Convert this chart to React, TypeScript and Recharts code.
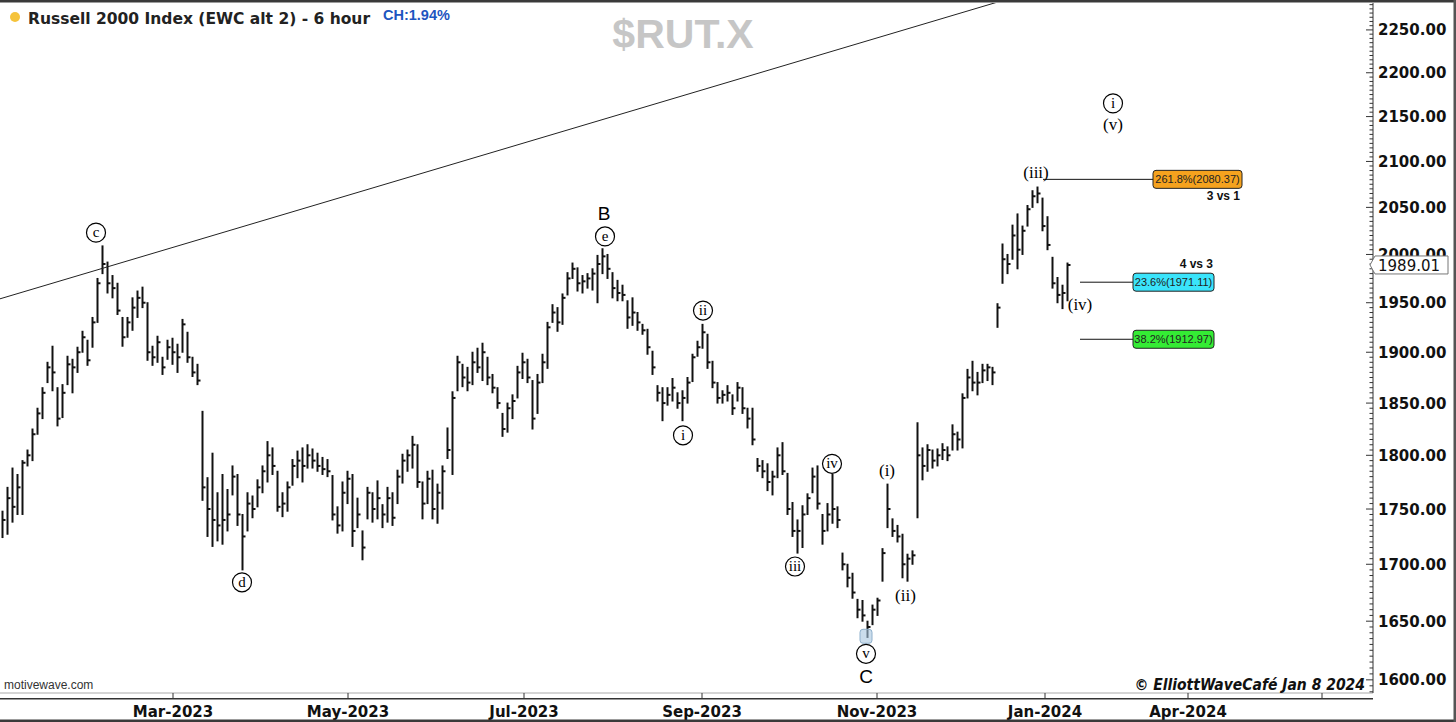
import React from "react";
import {
  ComposedChart,
  Bar,
  XAxis,
  YAxis,
  ReferenceLine,
  ReferenceDot,
} from "recharts";

// one bar per slot (high / low / close)
const highs = [
  1748, 1770, 1788, 1782, 1795, 1805, 1825, 1845, 1865, 1890,
  1906, 1865, 1868, 1896, 1893, 1905, 1921, 1912, 1935, 1975,
  2009, 1992, 1978, 1970, 1935, 1935, 1955, 1962, 1966, 1950,
  1906, 1916, 1895, 1912, 1914, 1908, 1933, 1920, 1895, 1888,
  1842, 1779, 1802, 1765, 1782, 1768, 1790, 1782, 1745, 1765,
  1762, 1777, 1790, 1813, 1807, 1785, 1765, 1775, 1796, 1804,
  1807, 1810, 1806, 1802, 1798, 1796, 1781, 1752, 1775, 1785,
  1782, 1760, 1730, 1770, 1765, 1776, 1754, 1770, 1765, 1786,
  1801, 1805, 1818, 1810, 1775, 1785, 1786, 1773, 1790, 1826,
  1861, 1896, 1888, 1885, 1900, 1904, 1909, 1895, 1878, 1865,
  1840, 1850, 1858, 1886, 1899, 1893, 1872, 1878, 1898, 1930,
  1948, 1945, 1959, 1981, 1991, 1986, 1978, 1980, 1985, 1999,
  2006, 2000, 1981, 1973, 1968, 1952, 1955, 1940, 1928, 1923,
  1901, 1867, 1865, 1865, 1874, 1860, 1862, 1875, 1898, 1911,
  1928, 1918, 1891, 1870, 1862, 1867, 1858, 1870, 1865, 1845,
  1845, 1797, 1795, 1792, 1785, 1807, 1812, 1783, 1756, 1740,
  1753, 1764, 1788, 1790, 1745, 1755, 1782, 1752, 1710, 1700,
  1692, 1669, 1668, 1650, 1664, 1670, 1714, 1773, 1741, 1735,
  1727, 1709, 1712, 1831, 1807, 1810, 1805, 1806, 1811, 1808,
  1829, 1822, 1859, 1883, 1891, 1880, 1888, 1888, 1885, 1949,
  2011, 2000, 2031, 2043, 2030, 2052, 2068, 2072, 2060, 2040,
  1997, 1976, 1968, 1991,
];

const lows = [
  1724, 1727, 1738, 1745, 1745, 1790, 1795, 1820, 1835, 1870,
  1862, 1828, 1836, 1868, 1860, 1880, 1900, 1887, 1905, 1930,
  1980, 1960, 1955, 1938, 1906, 1915, 1922, 1935, 1945, 1892,
  1887, 1890, 1878, 1893, 1888, 1880, 1900, 1890, 1876, 1868,
  1758, 1725, 1716, 1721, 1718, 1730, 1763, 1735, 1695, 1730,
  1742, 1752, 1765, 1775, 1782, 1748, 1743, 1748, 1772, 1779,
  1775, 1788, 1788, 1785, 1782, 1780, 1740, 1728, 1730, 1755,
  1716, 1733, 1704, 1741, 1738, 1741, 1733, 1738, 1735, 1755,
  1774, 1785, 1788, 1770, 1741, 1755, 1741, 1737, 1750, 1797,
  1782, 1862, 1866, 1862, 1868, 1880, 1872, 1868, 1860, 1845,
  1818, 1822, 1835, 1855, 1874, 1870, 1825, 1840, 1870, 1884,
  1930, 1921, 1928, 1958, 1975, 1962, 1960, 1965, 1963, 1950,
  1980, 1975, 1955, 1952, 1952, 1924, 1927, 1922, 1918, 1898,
  1878, 1852, 1833, 1848, 1852, 1845, 1833, 1850, 1871, 1896,
  1904, 1884, 1865, 1850, 1850, 1852, 1839, 1852, 1840, 1826,
  1810, 1785, 1779, 1767, 1763, 1779, 1782, 1745, 1725, 1710,
  1715, 1745, 1765, 1750, 1718, 1730, 1737, 1733, 1695, 1680,
  1670, 1653, 1650, 1636, 1647, 1655, 1685, 1733, 1725, 1720,
  1688, 1685, 1700, 1742, 1777, 1785, 1788, 1790, 1796, 1795,
  1805, 1805, 1807, 1855, 1862, 1858, 1870, 1872, 1868, 1925,
  1970, 1980, 1995, 1985, 2000, 2030, 2050, 2055, 2025, 2005,
  1965, 1950, 1944, 1952,
];

const closes = [
  1740, 1760, 1752, 1770, 1793, 1800, 1820, 1840, 1860, 1885,
  1880, 1835, 1860, 1888, 1885, 1900, 1915, 1892, 1930, 1970,
  1990, 1970, 1965, 1942, 1915, 1930, 1945, 1955, 1950, 1900,
  1895, 1910, 1885, 1905, 1900, 1895, 1928, 1895, 1880, 1872,
  1770, 1750, 1740, 1735, 1740, 1745, 1780, 1745, 1725, 1755,
  1750, 1770, 1785, 1800, 1790, 1752, 1755, 1770, 1790, 1795,
  1790, 1800, 1795, 1790, 1787, 1785, 1745, 1735, 1765, 1778,
  1730, 1745, 1715, 1765, 1750, 1760, 1745, 1760, 1742, 1780,
  1795, 1800, 1810, 1775, 1755, 1778, 1750, 1765, 1785, 1805,
  1855, 1890, 1875, 1870, 1890, 1885, 1900, 1875, 1865, 1850,
  1825, 1845, 1852, 1880, 1890, 1875, 1835, 1870, 1890, 1925,
  1940, 1930, 1955, 1975, 1985, 1970, 1972, 1975, 1980, 1990,
  1998, 1985, 1965, 1960, 1958, 1935, 1940, 1930, 1922, 1905,
  1885, 1860, 1850, 1858, 1865, 1850, 1855, 1870, 1895, 1905,
  1920, 1890, 1870, 1855, 1858, 1860, 1845, 1865, 1845, 1835,
  1815, 1790, 1785, 1775, 1780, 1800, 1785, 1750, 1730, 1730,
  1745, 1760, 1780, 1755, 1730, 1745, 1750, 1740, 1700, 1688,
  1675, 1660, 1655, 1645, 1660, 1668, 1710, 1750, 1730, 1725,
  1700, 1705, 1708, 1800, 1790, 1805, 1795, 1800, 1805, 1800,
  1820, 1815, 1855, 1875, 1870, 1870, 1882, 1885, 1880, 1945,
  1995, 1990, 2020, 2005, 2025, 2048, 2062, 2065, 2030, 2010,
  1970, 1958, 1960, 1989,
];

const xTickPositions = [34.1, 69.1, 104.3, 139.9, 174.9, 208.5, 237.1, 263.9];
const xTickLabels = [
  "Mar-2023",
  "May-2023",
  "Jul-2023",
  "Sep-2023",
  "Nov-2023",
  "Jan-2024",
  "Apr-2024",
  "",
];

const lastPrice = 1989.01;

// minor ticks every 5 points, majors every 50; the last-price tag goes last so it paints on top
const yTicks: number[] = [];
for (let v = 1590; v <= 2280; v += 5) yTicks.push(v);
yTicks.push(lastPrice);

// wave labels: [slot, price, text, style]
const waveLabels: [number, number, string, string][] = [
  [18.7, 2023, "c", "circle"],
  [47.9, 1684, "d", "circle"],
  [120.3, 2044, "B", "letter"],
  [120.5, 2019, "e", "circle"],
  [136.1, 1819, "i", "circle"],
  [140.1, 1942, "ii", "circle"],
  [158.5, 1698, "iii", "circle"],
  [165.9, 1792, "iv", "circle"],
  [172.7, 1622, "v", "circle"],
  [172.7, 1603, "C", "letter"],
  [176.9, 1786, "(i)", "paren"],
  [180.6, 1673, "(ii)", "paren"],
  [206.7, 2088, "(iii)", "paren"],
  [215.5, 1949, "(iv)", "paren"],
  [222.1, 2165, "i", "circle"],
  [222.1, 2142, "(v)", "paren"],
];

// fib projections
const fibPrices = [2080.37, 1971.11, 1912.97];
const fibLabels = ["261.8%(2080.37)", "23.6%(1971.11)", "38.2%(1912.97)"];
const fibColors = ["#f5a21e", "#3ae4fb", "#34ec34"];
const fibStart = [208.1, 215.5, 215.5];
const fibBox = [230.1, 226.1, 226.1];
const fibBoxWidth = [89, 81, 81];

const trendline = [
  { x: -0.5, y: 1954 },
  { x: 199.5, y: 2284 },
];

const data = highs.map((h, i) => ({
  i,
  range: [lows[i], h],
  high: h,
  low: lows[i],
  close: closes[i],
}));

const OhlcShape = (props: any) => {
  const { x, y, width, height, payload } = props;
  if (x == null || y == null) return null;
  const cx = x + width / 2;
  const top = Math.min(y, y + height);
  const h = Math.abs(height);
  const span = Math.log(payload.high) - Math.log(payload.low);
  const cy =
    span > 0
      ? top + (h * (Math.log(payload.high) - Math.log(payload.close))) / span
      : top;
  return (
    <g stroke="#111" strokeWidth={2}>
      <line x1={cx} y1={top - 0.5} x2={cx} y2={top + h + 0.5} />
      <line x1={cx} y1={cy} x2={cx + 3} y2={cy} />
    </g>
  );
};

const YTick = (props: any) => {
  const { x, y, payload } = props;
  const v = payload.value;
  if (v === lastPrice) {
    const l = x - 4;
    return (
      <g>
        <path
          d={`M${l - 4},${y} L${l + 1},${y - 9} L${l + 74},${y - 9} L${l + 74},${y + 9} L${l + 1},${y + 9} Z`}
          fill="#fff"
          stroke="#777"
          strokeWidth={1}
        />
        <text x={l + 4} y={y + 6} fontFamily="DejaVu Sans" fontSize={15} fill="#111">
          {v.toFixed(2)}
        </text>
      </g>
    );
  }
  const major = v % 50 === 0;
  const ax = x - 5;
  return (
    <g>
      <line
        x1={ax - (major ? 7 : 3.5)}
        x2={ax}
        y1={y}
        y2={y}
        stroke="#333"
        strokeWidth={1}
      />
      {major && (
        <text
          x={x}
          y={y + 5.5}
          textAnchor="start"
          fontFamily="DejaVu Sans"
          fontWeight="bold"
          fontSize={15}
          fill="#111"
        >
          {v.toFixed(2)}
        </text>
      )}
    </g>
  );
};

const XTick = (props: any) => {
  const { x, y, index } = props;
  return (
    <g>
      <line x1={x} x2={x} y1={y} y2={y + 6} stroke="#333" strokeWidth={1} />
      <text
        x={x}
        y={y + 24}
        textAnchor="middle"
        fontFamily="DejaVu Sans"
        fontWeight="bold"
        fontSize={15}
        fill="#111"
      >
        {xTickLabels[index] ?? ""}
      </text>
    </g>
  );
};

const waveShape = (text: string, style: string) => (p: any) => {
  const { cx, cy } = p;
  if (style === "circle") {
    return (
      <g>
        <circle cx={cx} cy={cy} r={9.5} fill="#fff" stroke="#000" strokeWidth={1.2} />
        <text
          x={cx}
          y={cy + 4.5}
          textAnchor="middle"
          fontFamily="Liberation Serif"
          fontSize={15}
          fill="#000"
        >
          {text}
        </text>
      </g>
    );
  }
  if (style === "letter") {
    return (
      <text
        x={cx}
        y={cy + 7}
        textAnchor="middle"
        fontFamily="Liberation Sans"
        fontSize={19}
        fill="#000"
      >
        {text}
      </text>
    );
  }
  return (
    <text
      x={cx}
      y={cy + 6}
      textAnchor="middle"
      fontFamily="Liberation Serif"
      fontSize={17}
      fill="#000"
    >
      {text}
    </text>
  );
};

const fibShape = (k: number) => (p: any) => {
  const { cx, cy } = p;
  const w = fibBoxWidth[k];
  return (
    <g>
      <rect
        x={cx}
        y={cy - 9}
        width={w}
        height={18}
        rx={3}
        fill={fibColors[k]}
        stroke="#222"
        strokeWidth={1}
      />
      <text
        x={cx + w / 2}
        y={cy + 4}
        textAnchor="middle"
        fontFamily="Liberation Sans"
        fontSize={11}
        fill="#222"
      >
        {fibLabels[k]}
      </text>
      {k === 0 && (
        <text
          x={cx + w - 2}
          y={cy + 21}
          textAnchor="end"
          fontFamily="Liberation Sans"
          fontWeight="bold"
          fontSize={12}
          fill="#111"
        >
          3 vs 1
        </text>
      )}
      {k === 1 && (
        <text
          x={cx + w - 1}
          y={cy - 14}
          textAnchor="end"
          fontFamily="Liberation Sans"
          fontWeight="bold"
          fontSize={12}
          fill="#111"
        >
          4 vs 3
        </text>
      )}
    </g>
  );
};

export default function App() {
  return (
    <div
      style={{
        position: "absolute",
        left: 0,
        top: 0,
        width: 1456,
        height: 722,
        background: "#fff",
        overflow: "hidden",
      }}
    >
      <ComposedChart
        width={1456}
        height={722}
        data={data}
        margin={{ top: 3, right: 0, bottom: 0, left: 0 }}
      >
        <XAxis
          dataKey="i"
          type="number"
          domain={[-0.5, 274.1]}
          allowDataOverflow
          ticks={xTickPositions}
          interval={0}
          height={29}
          axisLine={{ stroke: "#aaa" }}
          tickLine={false}
          tickSize={0}
          tickMargin={0}
          tick={XTick}
        />
        <YAxis
          orientation="right"
          scale="log"
          domain={[1589, 2282]}
          allowDataOverflow
          ticks={yTicks}
          interval={0}
          width={83}
          axisLine={{ stroke: "#333" }}
          tickLine={false}
          tickSize={0}
          tickMargin={5}
          tick={YTick}
        />
        <ReferenceLine
          segment={trendline}
          stroke="#222"
          strokeWidth={1}
          ifOverflow="hidden"
        />
        {fibPrices.map((v, k) => (
          <ReferenceLine
            key={"fl" + k}
            segment={[
              { x: fibStart[k], y: v },
              { x: fibBox[k], y: v },
            ]}
            stroke="#111"
            strokeWidth={1}
          />
        ))}
        <Bar
          dataKey="range"
          barSize={3}
          isAnimationActive={false}
          shape={OhlcShape}
        />
        <ReferenceDot
          x={172.7}
          y={1637}
          r={0}
          ifOverflow="visible"
          shape={(p: any) => (
            <rect
              x={p.cx - 6}
              y={p.cy - 7}
              width={12}
              height={14}
              rx={3}
              fill="#a9c6df"
              fillOpacity={0.6}
              stroke="#8fb0cc"
            />
          )}
        />
        {waveLabels.map(([i, v, t, s], k) => (
          <ReferenceDot
            key={"w" + k}
            x={i}
            y={v}
            r={0}
            ifOverflow="visible"
            shape={waveShape(t, s)}
          />
        ))}
        {fibPrices.map((v, k) => (
          <ReferenceDot
            key={"fb" + k}
            x={fibBox[k]}
            y={v}
            r={0}
            ifOverflow="visible"
            shape={fibShape(k)}
          />
        ))}
      </ComposedChart>
      <svg
        width={1456}
        height={722}
        style={{ position: "absolute", left: 0, top: 0, pointerEvents: "none" }}
      >
        <rect x={0} y={0} width={1456} height={2.5} fill="#3a3a3a" />
        <rect x={0} y={719.5} width={1456} height={2.5} fill="#3a3a3a" />
        <rect x={1453.5} y={0} width={2.5} height={722} fill="#555" />
        <rect x={0} y={698} width={1373} height={1.5} fill="#333" />
        <circle cx={15} cy={17} r={5} fill="#f5c33b" />
        <text
          x={28}
          y={24}
          fontFamily="DejaVu Sans"
          fontWeight="bold"
          fontSize={15.5}
          fill="#222"
        >
          Russell 2000 Index (EWC alt 2) - 6 hour
        </text>
        <text
          x={383}
          y={20}
          fontFamily="Liberation Sans"
          fontWeight="bold"
          fontSize={14.5}
          fill="#1d55c0"
        >
          CH:1.94%
        </text>
        <text
          x={683}
          y={48}
          textAnchor="middle"
          fontFamily="Liberation Sans"
          fontWeight="bold"
          fontSize={41}
          fill="#c6c6c6"
        >
          $RUT.X
        </text>
        <text x={4} y={689} fontFamily="Liberation Sans" fontSize={12} fill="#333">
          motivewave.com
        </text>
        <text
          x={1365}
          y={690}
          textAnchor="end"
          fontFamily="DejaVu Sans Condensed"
          fontStyle="italic"
          fontWeight="bold"
          fontSize={15.5}
          fill="#111"
        >
          © ElliottWaveCafé Jan 8 2024
        </text>
      </svg>
    </div>
  );
}
